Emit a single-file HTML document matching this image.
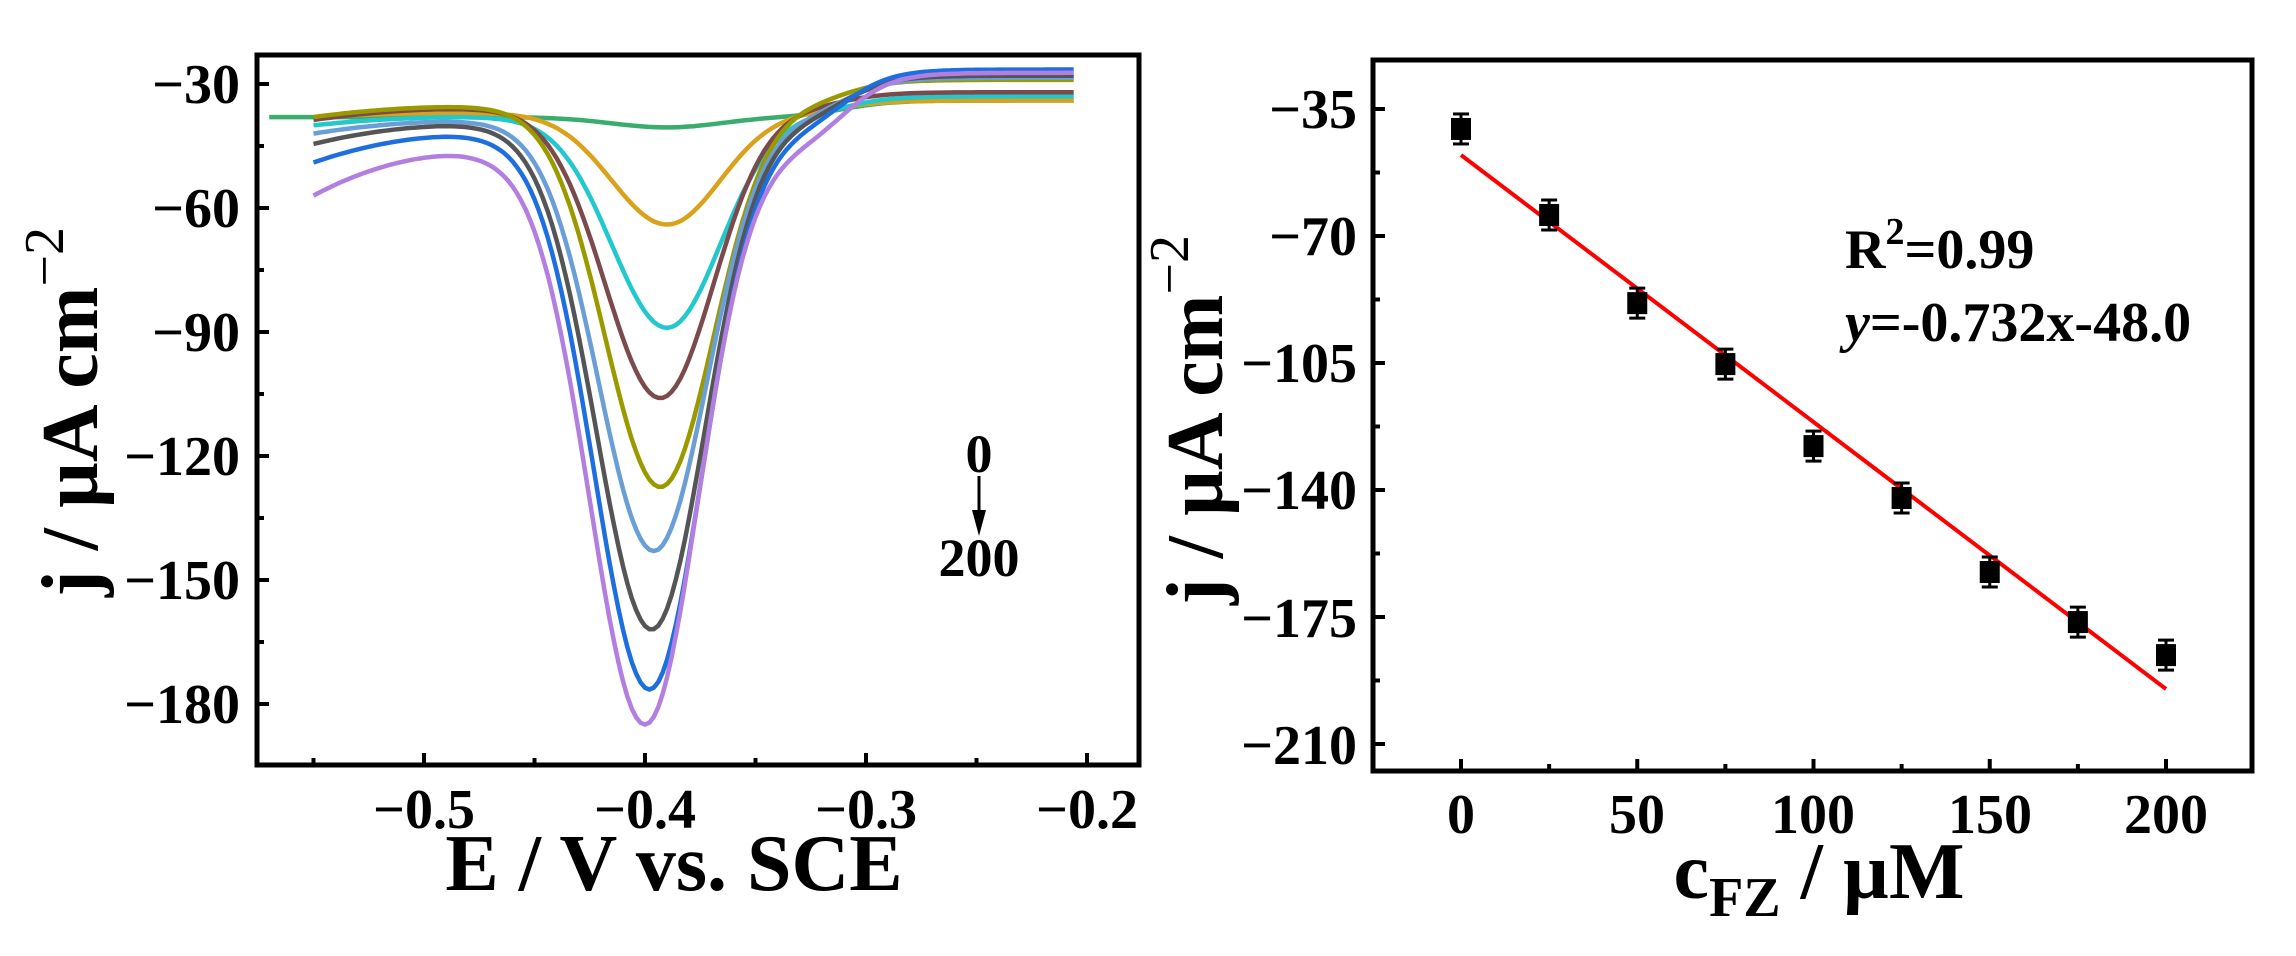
<!DOCTYPE html>
<html><head><meta charset="utf-8"><style>
html,body{margin:0;padding:0;background:#fff;}
svg{display:block;}
text{font-family:"Liberation Serif",serif;font-weight:bold;fill:#000;}
</style></head><body>
<svg id="s" width="2296" height="956" viewBox="0 0 2296 956" xmlns="http://www.w3.org/2000/svg">
<g id="curves" fill="none" stroke-width="4.5"></g>
<rect x="257" y="55" width="882" height="710" fill="none" stroke="#000" stroke-width="5"/>
<g id="lt" stroke="#000" stroke-width="4"></g>
<g font-size="56" text-anchor="end">
<text x="240" y="103">−30</text>
<text x="240" y="227">−60</text>
<text x="240" y="351">−90</text>
<text x="240" y="475">−120</text>
<text x="240" y="599">−150</text>
<text x="240" y="723">−180</text>
</g>
<g font-size="56" text-anchor="middle">
<text x="424" y="828">−0.5</text>
<text x="645" y="828">−0.4</text>
<text x="866" y="828">−0.3</text>
<text x="1087" y="828">−0.2</text>
</g>
<text x="674" y="890" font-size="80" text-anchor="middle">E / V vs. SCE</text>
<text transform="translate(97,412) rotate(-90)" font-size="80" text-anchor="middle">j / µA cm<tspan font-size="56" dy="-34" font-weight="normal">−2</tspan></text>
<text x="979" y="472" font-size="54" text-anchor="middle">0</text>
<line x1="979" y1="476" x2="979" y2="515" stroke="#000" stroke-width="3"/>
<polygon points="972,510 986,510 979,536" fill="#000"/>
<text x="979" y="576" font-size="54" text-anchor="middle">200</text>

<rect x="1373" y="60" width="879" height="711" fill="none" stroke="#000" stroke-width="5"/>
<g id="rt" stroke="#000" stroke-width="4"></g>
<g font-size="56" text-anchor="end">
<text x="1357" y="128">−35</text>
<text x="1357" y="255">−70</text>
<text x="1357" y="382">−105</text>
<text x="1357" y="509">−140</text>
<text x="1357" y="637">−175</text>
<text x="1357" y="764">−210</text>
</g>
<g font-size="56" text-anchor="middle">
<text x="1461" y="833">0</text>
<text x="1637" y="833">50</text>
<text x="1813" y="833">100</text>
<text x="1990" y="833">150</text>
<text x="2166" y="833">200</text>
</g>
<text x="1819" y="898" font-size="80" text-anchor="middle">c<tspan font-size="56" dy="18">FZ</tspan><tspan dy="-18"> / µM</tspan></text>
<text transform="translate(1222,420) rotate(-90)" font-size="80" text-anchor="middle">j / µA cm<tspan font-size="56" dy="-34" font-weight="normal">−2</tspan></text>
<line x1="1461" y1="155" x2="2166" y2="689" stroke="#ff0000" stroke-width="4"/>
<g id="pts" fill="#000" stroke="#000"></g>
<text x="1845" y="268" font-size="56">R<tspan font-size="38" dy="-24">2</tspan><tspan dy="24">=0.99</tspan></text>
<text x="1845" y="341" font-size="56"><tspan font-style="italic">y</tspan>=-0.732x-48.0</text>
</svg>
<script>
var NS="http://www.w3.org/2000/svg";
function el(p,t,a){var e=document.createElementNS(NS,t);for(var k in a)e.setAttribute(k,a[k]);document.getElementById(p).appendChild(e);}
var X=function(E){return 645+(E+0.4)*2210;}, Y=function(j){return 84+(-30-j)*124/30;};
[-0.55,-0.5,-0.45,-0.4,-0.35,-0.3,-0.25,-0.2].forEach(function(E){var maj=Math.abs(Math.round(E*10)-E*10)<1e-6;var x=X(E);el("lt","line",{x1:x,y1:765,x2:x,y2:765-(maj?12:7)});});
for(var j=-30;j>=-180;j-=15){var maj=(j%30===0);el("lt","line",{x1:257,y1:Y(j),x2:257+(maj?12:7),y2:Y(j)});}
var C=[
 ["#3aac6e",-38,-38,-34,2.5,-0.39,-0.57],
 ["#d9a21a",-38,-37,-34,27,-0.39,-0.55],
 ["#22c8cc",-40,-38,-33,51,-0.39,-0.55],
 ["#7b4a4c",-38.7,-36,-32,70,-0.393,-0.55],
 ["#9a9a00",-38,-35.5,-29,92,-0.393,-0.55],
 ["#6a9ed6",-42,-39,-28.5,104,-0.396,-0.55],
 ["#555555",-44.5,-40,-28,122,-0.397,-0.55],
 ["#1d6fe0",-49,-42.5,-26.5,134,-0.398,-0.55],
 ["#b27ee0",-57,-47,-27.3,138,-0.40,-0.55]];
C.forEach(function(c){var d="";for(var E=c[6];E<=-0.205;E+=0.002){var h=c[2],s=c[1],R=c[3];var L;if(E<-0.48){var t=(E+0.48)/(c[6]+0.48);L=h+(s-h)*t*t;}else L=h;if(c[6]<-0.56&&E<-0.55)L=s;var sg=1/(1+Math.exp(-(E+0.31)/0.011));var base=L+(R-L)*sg;var dx=E-c[5];var sig=dx<0?0.025:0.024;var jv=base-c[4]*Math.exp(-dx*dx/(2*sig*sig));d+=(d?"L":"M")+X(E).toFixed(1)+","+Y(jv).toFixed(1);}el("curves","path",{d:d,stroke:c[0]});});
var RX=function(c){return 1461+c*3.525;}, RY=function(j){return 109+(-35-j)*127/35;};
for(var c=0;c<=200;c+=25){var x=RX(c);el("rt","line",{x1:x,y1:771,x2:x,y2:771-(c%50===0?12:7)});}
for(var j=-35;j>=-210;j-=17.5){el("rt","line",{x1:1373,y1:RY(j),x2:1373+((j%35===0)?12:7),y2:RY(j)});}
var P=[[0,-40.5],[25,-64.2],[50,-88.5],[75,-105.3],[100,-127.9],[125,-142.2],[150,-162.6],[175,-176.4],[200,-185.5]];
P.forEach(function(p){var x=RX(p[0]),y=RY(p[1]);el("pts","line",{x1:x,y1:y-15,x2:x,y2:y+15,"stroke-width":3});el("pts","line",{x1:x-8,y1:y-15,x2:x+8,y2:y-15,"stroke-width":3});el("pts","line",{x1:x-8,y1:y+15,x2:x+8,y2:y+15,"stroke-width":3});el("pts","rect",{x:x-10,y:y-11,width:20,height:22,"stroke-width":0});});
</script>
</body></html>
